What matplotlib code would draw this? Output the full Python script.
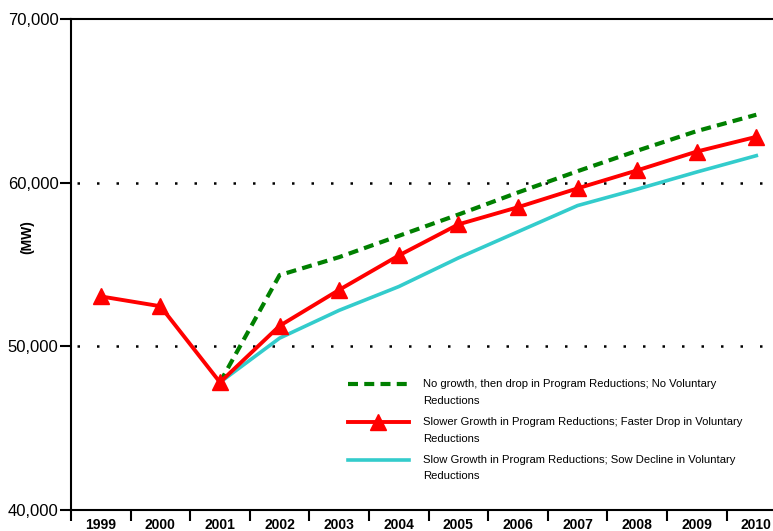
import matplotlib.pyplot as plt
from matplotlib.legend_handler import HandlerLine2D
from matplotlib.ticker import FuncFormatter

years = ['1999', '2000', '2001', '2002', '2003', '2004',
         '2005', '2006', '2007', '2008', '2009', '2010']

# MW
slower_growth = [53050, 52450, 47800, 51250, 53450, 55550,
                 57450, 58500, 59650, 60750, 61900, 62800]
no_growth = [None, None, 47800, 54350, 55450, 56750,
             58050, 59400, 60700, 61950, 63150, 64150]
slow_growth = [None, None, 47800, 50500, 52200, 53650,
               55400, 57000, 58600, 59600, 60650, 61650]

labels = ['No growth, then drop in Program Reductions; No Voluntary\nReductions',
          'Slower Growth in Program Reductions; Faster Drop in Voluntary\nReductions',
          'Slow Growth in Program Reductions; Sow Decline in Voluntary\nReductions']


class TopLineHandler(HandlerLine2D):
    """legend line drawn level with the first line of a two-line label"""

    def create_artists(self, *args, **kwargs):
        artists = super().create_artists(*args, **kwargs)
        for a in artists:
            a.set_ydata([y + 5.8 for y in a.get_ydata()])
        return artists


plt.rcParams['font.family'] = ['Liberation Sans', 'DejaVu Sans']

fig = plt.figure(figsize=(7.73, 5.31), dpi=100)
ax = fig.add_axes([71 / 773, 21 / 531, 1 - 71 / 773, 491 / 531])

x = list(range(len(years)))
xg = [i for i, v in zip(x, no_growth) if v is not None]
yg = [v for v in no_growth if v is not None]
xc = [i for i, v in zip(x, slow_growth) if v is not None]
yc = [v for v in slow_growth if v is not None]

ax.plot(xg, yg, color='#008000', lw=3, dashes=(2.4, 1.5), label=labels[0], zorder=3)
ax.plot(x, slower_growth, color='#ff0000', lw=2.8, marker='^', markersize=11,
        label=labels[1], zorder=4)
ax.plot(xc, yc, color='#33cccc', lw=2.6, label=labels[2], zorder=2)

for y in (50000, 60000):
    ax.axhline(y, color='black', lw=1.8, linestyle=(5.4, (1, 6.8)), zorder=1)

ax.set_ylim(40000, 70000)
ax.set_yticks([40000, 50000, 60000, 70000])
ax.yaxis.set_major_formatter(FuncFormatter(lambda v, p: f'{int(v):,}'))
ax.set_xlim(-0.5, 11.28)
ax.set_xticks([i - 0.5 for i in range(12)])
ax.set_xticklabels([])
ax.set_xticks(x, minor=True)
ax.set_xticklabels(years, minor=True, fontsize=10, fontweight='bold')
ax.tick_params(axis='x', which='minor', length=0, pad=6)
ax.tick_params(axis='x', which='major', length=8, width=1.5, direction='out')
ax.tick_params(axis='y', length=8, width=1.5, labelsize=12, pad=1)

for side in ('left', 'bottom', 'top'):
    ax.spines[side].set_linewidth(1.5)
ax.spines['right'].set_visible(False)

ax.set_ylabel('(MW)', fontsize=10, fontweight='bold')
ax.yaxis.set_label_coords(-0.053, 0.556)

leg = ax.legend(loc='upper left', bbox_to_anchor=(348 / 773, 1 - 379 / 531),
                bbox_transform=fig.transFigure, frameon=False, fontsize=8.1,
                handlelength=5.4, handletextpad=1.3, labelspacing=0.98,
                borderpad=0, borderaxespad=0,
                handler_map={plt.Line2D: TopLineHandler()})
for t in leg.get_texts():
    t.set_linespacing(1.85)

fig.savefig('out.png', dpi=100)
